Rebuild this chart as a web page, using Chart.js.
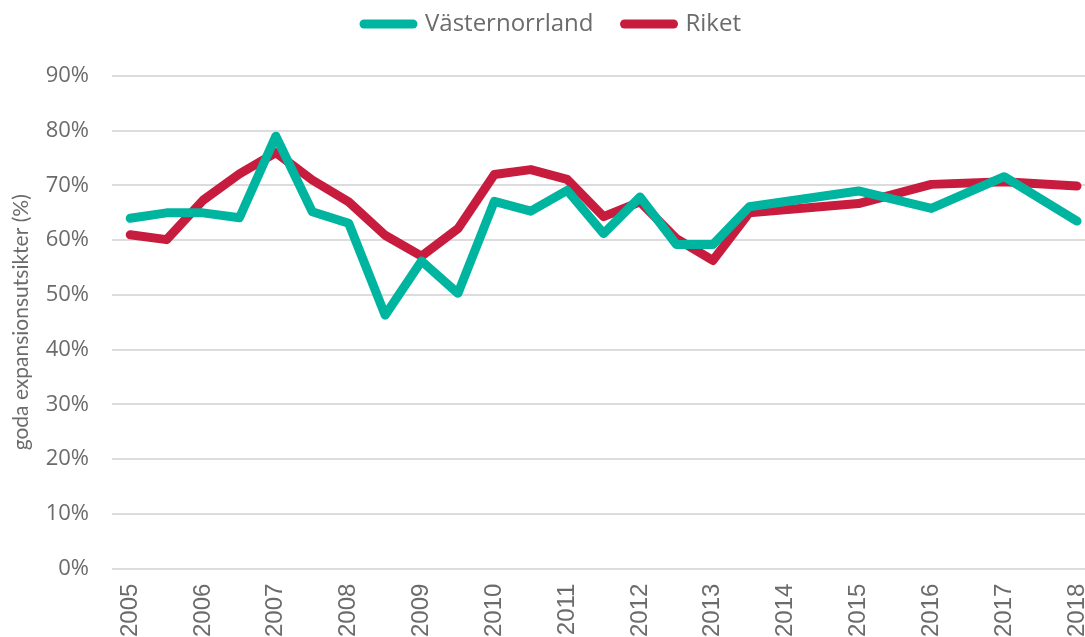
<!DOCTYPE html>
<html>
<head>
<meta charset="utf-8">
<script src="https://cdn.jsdelivr.net/npm/chart.js@4"></script>
<style>
  html, body { margin: 0; padding: 0; background: #fff; overflow: hidden; }
  #wrap { width: 1085px; height: 652px; position: relative; }
</style>
</head>
<body>
<div id="wrap"><canvas id="myChart"></canvas></div>
<script>
// half-year survey points, no measurement for 2014 / 2014.5
const years = [2005, 2005.5, 2006, 2006.5, 2007, 2007.5, 2008, 2008.5, 2009, 2009.5, 2010, 2010.5, 2011, 2011.5, 2012, 2012.5, 2013, 2013.5, 2015, 2016, 2017, 2018];
const vasternorrland = [64, 65, 65, 64.1, 79, 65.2, 63.1, 46.3, 56.2, 50.3, 67.1, 65.3, 69.1, 61.2, 67.9, 59.2, 59.2, 66.1, 69, 65.8, 71.6, 63.5];
const riket = [61, 60.1, 67.3, 72.1, 76, 71, 67, 60.9, 57.1, 62.1, 72, 72.9, 71.1, 64.3, 67, 60.3, 56.3, 65, 66.7, 70.2, 70.7, 69.9];
const tickYears = [2005, 2006, 2007, 2008, 2009, 2010, 2011, 2012, 2013, 2014, 2015, 2016, 2017, 2018];
const seriesNames = ['Västernorrland', 'Riket'];
const yTitle = 'goda expansionsutsikter (%)';

const grey = '#6b6b6b';
const toPoints = (vals) => vals.map((v, i) => ({ x: years[i], y: v }));

// extra room between legend and plot
const legendGap = {
    id: 'legendGap',
    beforeInit(chart) {
        const fit = chart.legend.fit;
        chart.legend.fit = function () {
            fit.bind(chart.legend)();
            this.height += 30;
        };
    }
};

const ctx = document.getElementById('myChart').getContext('2d');
const myChart = new Chart(ctx, {
    type: 'line',
    data: {
        datasets: [{
            label: seriesNames[0],
            data: toPoints(vasternorrland),
            borderColor: '#00b5a0',
            backgroundColor: '#00b5a0'
        }, {
            label: seriesNames[1],
            data: toPoints(riket),
            borderColor: '#c81c3e',
            backgroundColor: '#c81c3e'
        }]
    },
    options: {
        responsive: true,
        maintainAspectRatio: false,
        animation: false,
        layout: { padding: { top: -19, left: 20, right: 0, bottom: 0 } },
        elements: {
            line: { borderWidth: 9, tension: 0, borderCapStyle: 'round', borderJoinStyle: 'round', fill: false },
            point: { radius: 0, hoverRadius: 0 }
        },
        plugins: {
            legend: {
                position: 'top',
                labels: {
                    usePointStyle: true,
                    pointStyle: 'line',
                    pointStyleWidth: 49,
                    padding: 31,
                    color: grey,
                    font: { family: 'Open Sans', size: 24 },
                    generateLabels: (chart) =>
                        Chart.defaults.plugins.legend.labels.generateLabels(chart).map(l => ({ ...l, lineWidth: 9, lineCap: 'round' }))
                }
            },
            tooltip: { enabled: false }
        },
        scales: {
            x: {
                type: 'linear',
                min: 2004.75,
                max: 2018.11,
                afterBuildTicks: (scale) => {
                    scale.ticks = tickYears.map(v => ({ value: v }));
                },
                afterFit: (scale) => {
                    scale.paddingLeft = 0;
                    scale.paddingRight = 0;
                },
                grid: { display: false, drawTicks: false },
                border: { display: false },
                ticks: {
                    autoSkip: false,
                    minRotation: 90,
                    maxRotation: 90,
                    padding: 15,
                    color: grey,
                    font: { family: 'Liberation Sans', size: 24 },
                    callback: (v) => String(v)
                }
            },
            y: {
                min: 0,
                max: 90,
                afterFit: (scale) => { scale.width = 92; },
                grid: { color: '#dcdcdc', lineWidth: 2, drawTicks: false },
                border: { display: false },
                ticks: {
                    stepSize: 10,
                    padding: 23,
                    color: grey,
                    font: { family: 'Open Sans', size: 22 },
                    callback: (v) => v + '%'
                },
                title: {
                    display: true,
                    text: yTitle,
                    color: grey,
                    font: { family: 'Lato', size: 21 },
                    padding: { top: -11, bottom: 4 }
                }
            }
        }
    },
    plugins: [legendGap]
});
</script>
</body>
</html>
